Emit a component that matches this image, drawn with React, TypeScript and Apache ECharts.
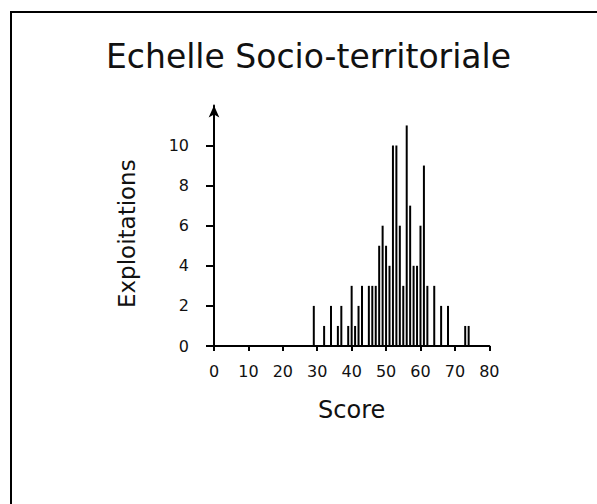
import React, { useEffect, useRef } from "react";
import * as echarts from "echarts";

const titleText = "Echelle Socio-territoriale";
const xName = "Score";
const yName = "Exploitations";
const scores = [29, 32, 34, 36, 37, 39, 40, 41, 42, 43, 45, 46, 47, 48, 49, 50, 51, 52, 53, 54, 55, 56, 57, 58, 59, 60, 61, 62, 64, 66, 68, 73, 74];
const counts = [2, 1, 2, 1, 2, 1, 3, 1, 2, 3, 3, 3, 3, 5, 6, 5, 4, 10, 10, 6, 3, 11, 7, 4, 4, 6, 9, 3, 3, 2, 2, 1, 1];
const yTicks = [0, 2, 4, 6, 8, 10];
const xTicks = [0, 10, 20, 30, 40, 50, 60, 70, 80];

const FONT = "DejaVu Sans";

export default function App() {
  const ref = useRef<HTMLDivElement>(null);
  useEffect(() => {
    if (!ref.current) return;
    const chart = echarts.init(ref.current, null, { renderer: "svg" });
    chart.setOption({
      animation: false,
      backgroundColor: "#fff",
      graphic: [
        {
          type: "rect",
          shape: { x: 11, y: 12, width: 700, height: 700 },
          style: { fill: "none", stroke: "#000", lineWidth: 2 },
          silent: true,
        },
        {
          type: "text",
          x: 308.5,
          y: 56,
          style: {
            text: titleText,
            fontFamily: FONT,
            fontSize: 33,
            fill: "#111",
            align: "center",
            verticalAlign: "middle",
          },
        },
      ],
      grid: { left: 214, right: 107.7, top: 105.4, bottom: 158 },
      xAxis: {
        type: "value",
        min: 0,
        max: 80,
        interval: 10,
        name: xName,
        nameLocation: "middle",
        nameGap: 52,
        nameTextStyle: { fontFamily: FONT, fontSize: 24, color: "#111" },
        splitLine: { show: false },
        axisLine: { lineStyle: { color: "#000", width: 2 } },
        axisTick: { show: true, length: 5, lineStyle: { color: "#000", width: 2 }, customValues: xTicks },
        axisLabel: { fontFamily: FONT, fontSize: 16, color: "#111", margin: 17, customValues: xTicks },
      },
      yAxis: {
        type: "value",
        min: 0,
        max: 12,
        interval: 2,
        name: yName,
        nameLocation: "middle",
        nameGap: 76,
        nameTextStyle: { fontFamily: FONT, fontSize: 23, color: "#111", padding: [0, 16, 0, 0] },
        splitLine: { show: false },
        axisLine: {
          show: true,
          symbol: ["none", "arrow"],
          symbolSize: [8, 12],
          lineStyle: { color: "#000", width: 2 },
        },
        axisTick: { show: true, length: 8, lineStyle: { color: "#000", width: 2 }, customValues: yTicks },
        axisLabel: { fontFamily: FONT, fontSize: 16, color: "#111", margin: 25, customValues: yTicks },
      },
      series: [
        {
          type: "bar",
          data: scores.map((s, i) => [s, counts[i]]),
          barWidth: 2,
          itemStyle: { color: "#000" },
        },
      ],
    });
    return () => chart.dispose();
  }, []);
  return <div ref={ref} style={{ position: "absolute", left: 0, top: 0, width: 597, height: 504 }} />;
}
